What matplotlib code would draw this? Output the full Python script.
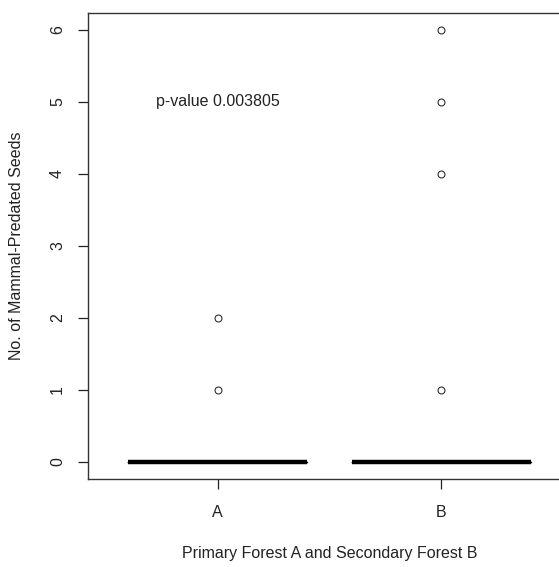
import matplotlib
matplotlib.use("Agg")
from matplotlib import pyplot as plt

plt.rcParams['font.family'] = ['Liberation Sans', 'DejaVu Sans']

# seed counts per plot (mostly zero, with a few predated)
forest_a = [0] * 18 + [1, 2]
forest_b = [0] * 16 + [1, 4, 5, 6]
groups = ['A', 'B']
p_value = 0.003805

fs = 11.5

fig = plt.figure(figsize=(5.59, 5.67), dpi=100)
# R's plot region; right part is cropped off in the original
ax = fig.add_axes([88 / 559, 88 / 567, (571 - 88) / 559, (554.5 - 88) / 567])

ax.boxplot([forest_a, forest_b], positions=[1, 2], widths=0.8,
           medianprops=dict(color='black', linewidth=3.2, solid_capstyle='butt'),
           boxprops=dict(color='black', linewidth=1),
           whiskerprops=dict(color='black', linewidth=1, linestyle='--'),
           capprops=dict(color='black', linewidth=1),
           flierprops=dict(marker='o', markerfacecolor='none', markeredgecolor='#222222',
                           markersize=5, markeredgewidth=0.75))

ax.set_xlim(0.42, 2.58)
ax.set_ylim(-0.24, 6.24)
ax.set_xticks([1, 2])
ax.set_xticklabels(groups)
ax.set_yticks(range(7))
ax.set_yticklabels([str(i) for i in range(7)], rotation=90, va='center')

ax.tick_params(axis='both', direction='out', length=7.5, width=0.9, labelsize=fs, colors='#222222')
ax.tick_params(axis='y', pad=9)
ax.tick_params(axis='x', pad=11)

for s in ax.spines.values():
    s.set_linewidth(1)
    s.set_color('#333333')

ax.text(1, 5, 'p-value %.6f' % p_value, ha='center', va='center', fontsize=fs, color='#222222')

ax.set_xlabel('Primary Forest A and Secondary Forest B', fontsize=fs, labelpad=19, color='#222222')
ax.set_ylabel('No. of Mammal-Predated Seeds', fontsize=fs, labelpad=19, color='#222222')

fig.savefig('out.png', dpi=100)
